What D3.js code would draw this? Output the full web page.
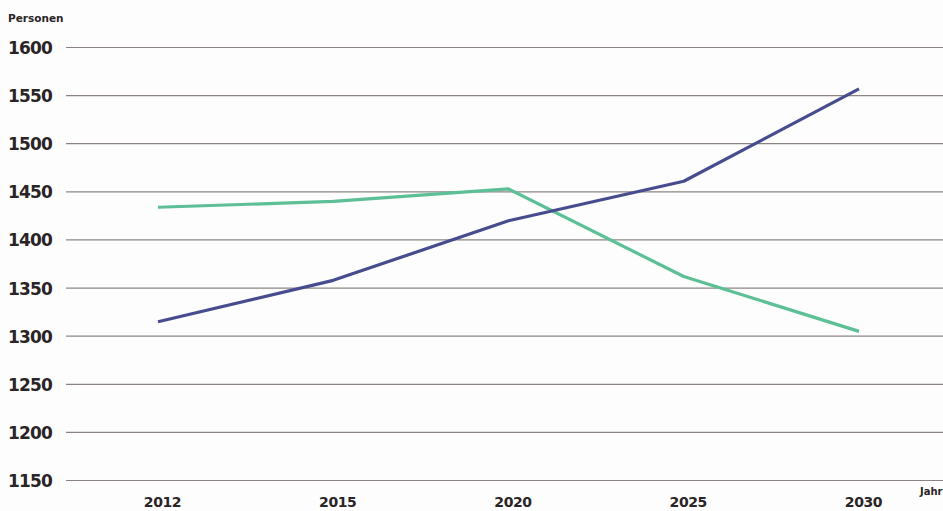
<!DOCTYPE html>
<html><head><meta charset="utf-8">
<script src="https://cdn.jsdelivr.net/npm/d3@7/dist/d3.min.js"></script>
<style>body{margin:0;background:#fdfdfd;}svg{display:block;}</style>
</head><body>
<svg id="c" width="943" height="511"></svg>
<script>
const years = ["2012", "2015", "2020", "2025", "2030"];
const seriesBlue = [1315, 1358, 1420, 1461, 1557];
const seriesGreen = [1434, 1440, 1453, 1362, 1305];
const yTicks = [1150, 1200, 1250, 1300, 1350, 1400, 1450, 1500, 1550, 1600];
const yTitle = "Personen";
const xTitle = "Jahr";

const svg = d3.select("#c");
const x = d3.scalePoint().domain(years).range([158, 859]);
const y = d3.scaleLinear().domain([1150, 1600]).range([480.5, 47.5]);

// gridlines
svg.append("g").selectAll("line").data(yTicks).join("line")
  .attr("x1", 66).attr("x2", 943)
  .attr("y1", d => y(d)).attr("y2", d => y(d))
  .attr("stroke", "#8c8482").attr("stroke-width", 1.2);

// y axis labels
const yAxis = d3.axisLeft(y).tickValues(yTicks).tickSize(0).tickPadding(0).tickFormat(d3.format("d"));
const ya = svg.append("g").attr("transform", "translate(52,0)").call(yAxis);
ya.select(".domain").remove();
ya.selectAll("text").attr("font-family", "DejaVu Sans").attr("font-weight", "bold")
  .attr("font-size", 17).attr("fill", "#2a2426").attr("letter-spacing", "-0.8")
  .attr("dy", "0.35em");

// x axis labels
const xAxis = d3.axisBottom(x).tickSize(0).tickPadding(0);
const xa = svg.append("g").attr("transform", "translate(4,0)").call(xAxis);
xa.select(".domain").remove();
xa.selectAll("text").attr("font-family", "DejaVu Sans").attr("font-weight", "bold")
  .attr("font-size", 14).attr("fill", "#2a2426").attr("letter-spacing", "-0.4")
  .attr("y", 507).attr("dy", "0");

svg.append("text").attr("x", 8).attr("y", 22).text(yTitle)
  .attr("font-family", "DejaVu Sans").attr("font-weight", "bold").attr("font-size", 10.5)
  .attr("fill", "#2a2426");
svg.append("text").attr("x", 920).attr("y", 495).text(xTitle)
  .attr("font-family", "DejaVu Sans").attr("font-weight", "bold").attr("font-size", 10)
  .attr("fill", "#2a2426");

const line = d3.line().x((d, i) => x(years[i])).y(d => y(d));
svg.append("path").datum(seriesGreen).attr("d", line)
  .attr("fill", "none").attr("stroke", "#5cbf96").attr("stroke-width", 3.2)
  .attr("stroke-linejoin", "round");
svg.append("path").datum(seriesBlue).attr("d", line)
  .attr("fill", "none").attr("stroke", "#474c8e").attr("stroke-width", 3.2)
  .attr("stroke-linejoin", "round");
</script>
</body></html>
